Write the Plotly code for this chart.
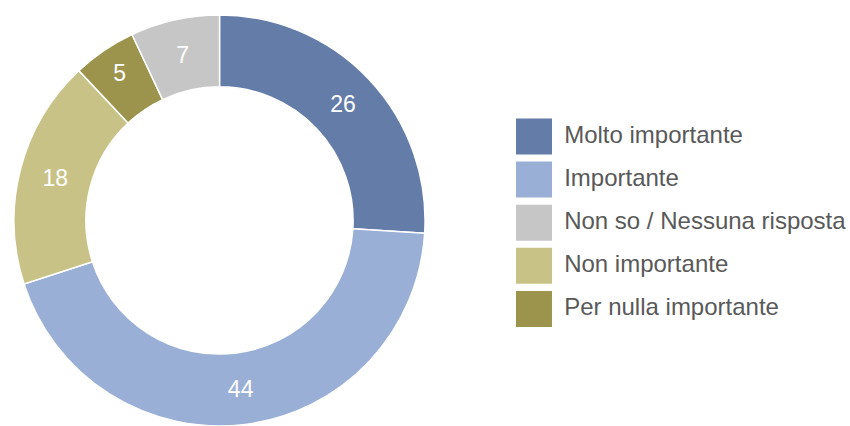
import plotly.graph_objects as go

# slices in drawing order (clockwise from 12 o'clock)
slice_labels = ['Molto importante', 'Importante', 'Non importante',
                'Per nulla importante', 'Non so / Nessuna risposta']
slice_values = [26, 44, 18, 5, 7]

# legend order as shown on the right
legend_labels = ['Molto importante', 'Importante', 'Non so / Nessuna risposta',
                 'Non importante', 'Per nulla importante']

color_map = {
    'Molto importante': '#637ca8',
    'Importante': '#9aafd6',
    'Non so / Nessuna risposta': '#c6c6c6',
    'Non importante': '#c8c287',
    'Per nulla importante': '#9c944c',
}

font_family = 'Liberation Sans, Arial, sans-serif'

fig = go.Figure()

fig.add_trace(go.Pie(
    labels=slice_labels,
    values=slice_values,
    sort=False,
    direction='clockwise',
    rotation=0,
    hole=0.65,
    textinfo='value',
    textposition='inside',
    insidetextorientation='horizontal',
    textfont=dict(family=font_family, size=23, color='white'),
    marker=dict(
        colors=[color_map[l] for l in slice_labels],
        line=dict(color='white', width=1.5),
    ),
    domain=dict(x=[0, 0.5165], y=[0, 0.965]),
    showlegend=False,
    hovertemplate='%{label}: %{value}<extra></extra>',
))

# hand-made legend with big square swatches
fig.add_trace(go.Scatter(
    x=[0] * len(legend_labels),
    y=legend_labels,
    mode='markers+text',
    marker=dict(symbol='square', size=36,
                color=[color_map[l] for l in legend_labels]),
    text=[' ' + l for l in legend_labels],
    textposition='middle right',
    textfont=dict(family=font_family, size=24, color='#595959'),
    showlegend=False,
    hoverinfo='skip',
))

fig.update_layout(
    width=850,
    height=426,
    margin=dict(l=0, r=0, t=0, b=0),
    paper_bgcolor='white',
    plot_bgcolor='rgba(0,0,0,0)',
    xaxis=dict(
        domain=[0.6, 1.0],
        range=[-1, 13.17],
        visible=False,
        fixedrange=True,
    ),
    yaxis=dict(
        type='category',
        range=[6.717, -3.167],
        visible=False,
        fixedrange=True,
    ),
)

# drop the default 8px body margin so the figure sits at the window origin
fig.write_html('out.html',
               config={'displayModeBar': False},
               post_script="document.body.style.margin='0';")
